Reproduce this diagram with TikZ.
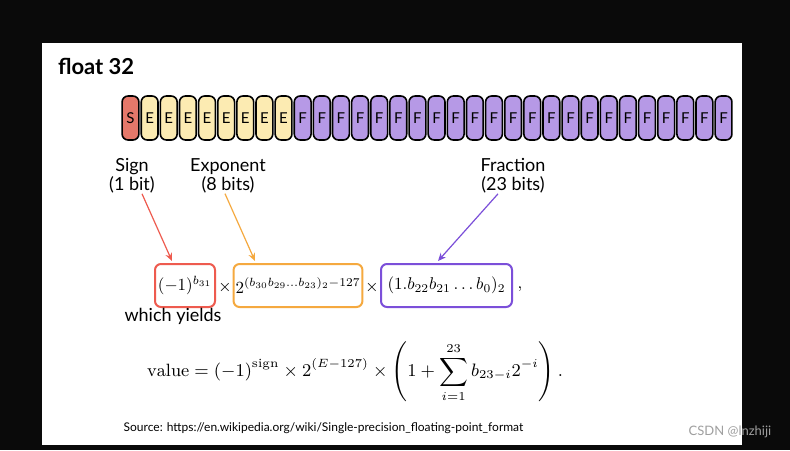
\documentclass[tikz,border=0pt]{standalone}
\usepackage{fontspec}
\usepackage{graphicx}
\setsansfont{Lato}
\usetikzlibrary{positioning,arrows.meta}

\definecolor{signfill}{HTML}{E5786A}
\definecolor{expfill}{HTML}{FCEBB2}
\definecolor{fracfill}{HTML}{B699E6}
\definecolor{signline}{HTML}{EE5B4F}
\definecolor{expline}{HTML}{F5A93F}
\definecolor{fracline}{HTML}{7B4FD9}
\definecolor{slide}{HTML}{0A0A0A}

\newcommand{\fieldmath}[1]{\scalebox{0.85}{$#1$}}

\begin{document}
\begin{tikzpicture}[
    x=0.5pt, y=-0.5pt,
    every node/.style={font=\sffamily},
    bit/.style={draw=black, line width=0.8pt, rounded corners=3pt, minimum width=8.4pt, minimum height=22pt, inner sep=0pt, font=\sffamily\fontsize{7.5}{8}\selectfont},
    part/.style={font=\sffamily\fontsize{9}{9.5}\selectfont, align=center, inner sep=0pt},
    partbox/.style={draw=#1, line width=1pt, rounded corners=3pt, minimum height=21.5pt, inner sep=1pt, font=\fontsize{10}{12}\selectfont},
    partarrow/.style={draw=#1, line width=0.6pt, -{Stealth[length=4pt, width=3.5pt]}},
    formula/.style={font=\fontsize{8.5}{10}\selectfont, inner sep=0pt},
  ]
  % slide
  \useasboundingbox[fill=slide] (0,0) rectangle (790,450);
  \fill[white] (42,43) rectangle (742,445);
  \node[anchor=west, font=\sffamily\bfseries\fontsize{11}{13}\selectfont] (title) at (51,66) {float 32};

  % the 32 bits
  \node[bit, fill=signfill] (b31) at (130.5,118) {S};
  \foreach \i in {1,...,8} {
    \pgfmathtruncatemacro\n{31-\i}
    \node[bit, fill=expfill] (b\n) at (130.5+19.13*\i,118) {E};
  }
  \foreach \i in {9,...,31} {
    \pgfmathtruncatemacro\n{31-\i}
    \node[bit, fill=fracfill] (b\n) at (130.5+19.13*\i,118) {F};
  }

  % field labels
  \node[part] (sign) at (132,176) {Sign\\(1 bit)};
  \node[part] (exponent) at (228,176) {Exponent\\(8 bits)};
  \node[part] (fraction) at (513,176) {Fraction\\(23 bits)};

  % formula with the three fields
  \node[partbox=signline, minimum width=30pt] (signbox) at (185,285.5) {\fieldmath{(-1)^{b_{31}}}};
  \node[partbox=expline, minimum width=64pt] (expbox) at (298,285.5) {\fieldmath{2^{(b_{30}b_{29}\dots b_{23})_2-127}}};
  \node[partbox=fracline, minimum width=65.5pt] (fracbox) at (446.5,285.5) {\fieldmath{(1.b_{22}b_{21}\dots b_0)_2}};
  \node[formula] (times1) at (225,287) {$\times$};
  \node[formula] (times2) at (372,287) {$\times$};
  \node[formula] (comma) at (520,289) {$,$};

  % arrows
  \draw[partarrow=signline] ([xshift=5pt]sign.south) -- ([xshift=-6.5pt, yshift=1pt]signbox.north);
  \draw[partarrow=expline] ([xshift=-1.5pt]exponent.south) -- ([xshift=-21.5pt, yshift=1pt]expbox.north);
  \draw[partarrow=fracline] ([xshift=-7.5pt]fraction.south) -- ([xshift=-4.25pt, yshift=1pt]fracbox.north);

  \node[font=\sffamily\fontsize{9}{10}\selectfont] (yields) at (173,316) {which yields};

  % value
  \node[formula, font=\fontsize{8.9}{11}\selectfont] (value) at (355,372) {$\displaystyle \mathrm{value} = (-1)^{\mathrm{sign}} \times 2^{(E-127)} \times \left(1+\sum_{i=1}^{23} b_{23-i}2^{-i}\right).$};

  \node[font=\sffamily\fontsize{6}{7}\selectfont] (source) at (323.5,428) {Source: https://en.wikipedia.org/wiki/Single-precision\_floating-point\_format};
  \node[font=\sffamily\fontsize{6.5}{7}\selectfont, text=gray!75] (mark) at (730,432) {CSDN @lnzhiji};
\end{tikzpicture}
\end{document}
